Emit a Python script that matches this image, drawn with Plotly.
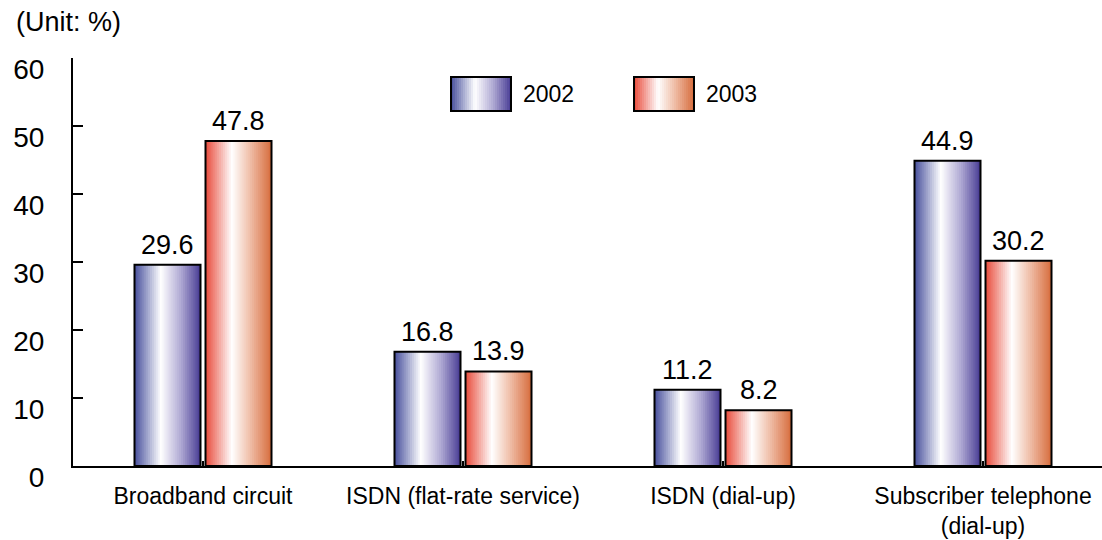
import plotly.graph_objects as go

# Data
categories = ["Broadband circuit", "ISDN (flat-rate service)", "ISDN (dial-up)",
              "Subscriber telephone<br>(dial-up)"]
years = ["2002", "2003"]
values_2002 = [29.6, 16.8, 11.2, 44.9]
values_2003 = [47.8, 13.9, 8.2, 30.2]
y_ticks = [0, 10, 20, 30, 40, 50, 60]

FONT = "Liberation Sans, Arial, sans-serif"
W, H = 1102, 540
ML, MR, MT, MB = 73, 0, 58, 74
PW, PH = W - ML - MR, H - MT - MB
CAT_PX = 260  # pixel width of one category slot

# Horizontal gradient stops: dark edge -> white highlight -> dark edge
grad_2002 = [(0.0, (70, 78, 156)), (0.40, (255, 255, 255)), (0.70, (176, 170, 212)), (1.0, (72, 60, 148))]
grad_2003 = [(0.0, (232, 74, 58)), (0.40, (255, 255, 255)), (0.70, (238, 184, 160)), (1.0, (214, 108, 60))]


def grad_color(stops, t):
    for (t0, c0), (t1, c1) in zip(stops[:-1], stops[1:]):
        if t <= t1:
            f = (t - t0) / (t1 - t0) if t1 > t0 else 0
            r, g, b = (round(a + (b_ - a) * f) for a, b_ in zip(c0, c1))
            return f"rgb({r},{g},{b})"
    r, g, b = stops[-1][1]
    return f"rgb({r},{g},{b})"


BAR_W = 66 / CAT_PX
GAP = 5 / CAT_PX
N_SLICES = 34

fig = go.Figure()
annotations = []

series = [
    (years[0], values_2002, grad_2002, -BAR_W - GAP / 2),
    (years[1], values_2003, grad_2003, GAP / 2),
]

xs = list(range(len(categories)))
for name, vals, stops, off in series:
    step = BAR_W / N_SLICES
    for i in range(N_SLICES):
        start = off + i * step
        width = min(step * 1.8, off + BAR_W - start)
        fig.add_trace(go.Bar(
            x=xs, y=vals,
            offset=start, width=width,
            marker=dict(color=grad_color(stops, (i + 0.5) / N_SLICES), line=dict(width=0)),
            showlegend=False, hoverinfo="skip",
        ))
    # outline
    fig.add_trace(go.Bar(
        x=xs, y=vals, name=name,
        offset=off, width=BAR_W,
        marker=dict(color="rgba(0,0,0,0)", line=dict(color="black", width=2)),
        showlegend=False,
    ))
    # value labels above each bar
    for xi, v in zip(xs, vals):
        annotations.append(dict(
            x=xi + off + BAR_W / 2, y=v, xref="x", yref="y",
            text=f"{v:.1f}", showarrow=False, yanchor="bottom", yshift=3,
            font=dict(family=FONT, size=27, color="black"),
        ))


def px_x(p):
    return (p - ML) / PW


def px_y(p):
    return (H - MB - p) / PH


# Custom legend with gradient swatches
shapes = []
legend_items = [(years[0], grad_2002, 451), (years[1], grad_2003, 634)]
for label, stops, x0 in legend_items:
    sw, y0, y1 = 60, 77, 111
    n = 30
    for i in range(n):
        a = x0 + sw * i / n
        b = min(x0 + sw * (i + 1.8) / n, x0 + sw)
        shapes.append(dict(type="rect", xref="paper", yref="paper",
                           x0=px_x(a), x1=px_x(b), y0=px_y(y1), y1=px_y(y0),
                           fillcolor=grad_color(stops, (i + 0.5) / n), line=dict(width=0),
                           layer="above"))
    shapes.append(dict(type="rect", xref="paper", yref="paper",
                       x0=px_x(x0), x1=px_x(x0 + sw), y0=px_y(y1), y1=px_y(y0),
                       fillcolor="rgba(0,0,0,0)", line=dict(color="black", width=2),
                       layer="above"))
    annotations.append(dict(text=label, xref="paper", yref="paper",
                            x=px_x(x0 + sw + 10), y=px_y(94), xanchor="left", yanchor="middle",
                            showarrow=False, font=dict(family=FONT, size=23, color="black")))

annotations.append(dict(text="(Unit: %)", xref="paper", yref="paper",
                        x=px_x(14), y=px_y(22), xanchor="left", yanchor="middle",
                        showarrow=False, font=dict(family=FONT, size=27, color="black")))

fig.update_layout(
    width=W, height=H,
    margin=dict(l=ML, r=MR, t=MT, b=MB, pad=0),
    plot_bgcolor="white", paper_bgcolor="white",
    barmode="overlay",
    showlegend=False,
    shapes=shapes, annotations=annotations,
    font=dict(family=FONT, color="black"),
    xaxis=dict(
        range=[-0.5, -0.5 + PW / CAT_PX],
        tickmode="array", tickvals=xs, ticktext=categories,
        tickson="boundaries", ticks="inside", ticklen=5, tickwidth=1.5, tickcolor="black",
        showline=True, linecolor="black", linewidth=2,
        showgrid=False, zeroline=False,
        tickfont=dict(family=FONT, size=23, color="black"),
        ticklabelstandoff=8,
    ),
    yaxis=dict(
        range=[0, 60], tickvals=y_ticks,
        ticks="inside", ticklen=10, tickwidth=1.5, tickcolor="black",
        showline=True, linecolor="black", linewidth=2,
        showgrid=False, zeroline=False,
        tickfont=dict(family=FONT, size=28, color="black"),
        ticklabelstandoff=21, ticklabelshift=11,
    ),
)

fig.write_html("out.html")
